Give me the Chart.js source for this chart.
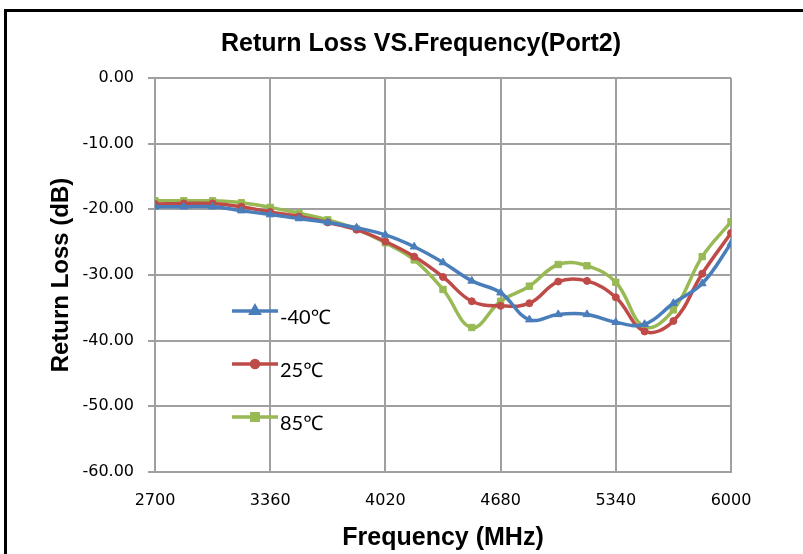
<!DOCTYPE html>
<html>
<head>
<meta charset="utf-8">
<script src="https://cdn.jsdelivr.net/npm/chart.js@4/dist/chart.umd.min.js"></script>
<style>
  body { margin: 0; background: #fff; }
  #wrap { position: relative; width: 803px; height: 554px; overflow: hidden; }
  #frame { position: absolute; left: 4px; top: 9px; width: 900px; height: 700px;
           border-left: 3px solid #000; border-top: 3px solid #000; pointer-events: none; }
</style>
</head>
<body>
<div id="wrap">
  <canvas id="rl" width="803" height="554"></canvas>
  <div id="frame"></div>
</div>
<script>
// frequencies in MHz
const freqs = [2700, 2865, 3030, 3195, 3360, 3525, 3690, 3855, 4020, 4185, 4350,
               4515, 4680, 4845, 5010, 5175, 5340, 5505, 5670, 5835, 6000];

// return loss (dB) per temperature
const rlMinus40 = [-19.6, -19.6, -19.6, -20.2, -20.8, -21.4, -22.0, -22.8, -23.9, -25.7, -28.1,
                   -30.9, -32.7, -36.8, -36.0, -36.0, -37.2, -37.5, -34.3, -31.3, -25.2];
const rl25 = [-19.2, -19.1, -19.1, -19.6, -20.4, -21.1, -22.0, -23.1, -24.9, -27.2, -30.3,
              -34.0, -34.7, -34.3, -31.0, -30.9, -33.4, -38.6, -37.0, -29.8, -23.6];
const rl85 = [-18.7, -18.7, -18.7, -19.0, -19.7, -20.6, -21.6, -23.0, -25.1, -27.7, -32.2,
              -38.0, -34.0, -31.7, -28.4, -28.6, -31.1, -37.9, -35.3, -27.2, -21.9];

const seriesNames = ['-40\u2103', '25\u2103', '85\u2103'];
const seriesColors = ['#4a7ebb', '#be4b48', '#98b954'];
const seriesMarkers = ['triangle', 'circle', 'rect'];

const xTicks = [2700, 3360, 4020, 4680, 5340, 6000];
const chartTitle = 'Return Loss VS.Frequency(Port2)';

const boldFont = '"Liberation Sans", Arial, sans-serif';
const tickFont = '"DejaVu Sans", sans-serif';

const toPoints = vals => vals.map((v, i) => ({ x: freqs[i], y: v }));
const markerSize = m => m == 'circle' ? 3.5 : 4.5;

const datasets = [rlMinus40, rl25, rl85].map((vals, i) => ({
    label: seriesNames[i],
    data: toPoints(vals),
    borderColor: seriesColors[i],
    backgroundColor: seriesColors[i],
    borderWidth: 3.5,
    pointStyle: seriesMarkers[i],
    pointRadius: markerSize(seriesMarkers[i]),
    pointBorderWidth: 1,
    tension: 0.4
}));

// title and legend are drawn by hand (title is centred on the picture, legend sits inside the plot)
const extras = {
    id: 'extras',
    afterDatasetsDraw(chart) {
        const ctx = chart.ctx;
        ctx.save();
        ctx.fillStyle = '#000';
        ctx.font = 'bold 25px ' + boldFont;
        ctx.textAlign = 'center';
        ctx.textBaseline = 'middle';
        ctx.fillText(chartTitle, 421, 44);

        const rows = [311, 364, 417];
        rows.forEach((y, i) => {
            ctx.strokeStyle = seriesColors[i];
            ctx.lineWidth = 3.5;
            ctx.beginPath();
            ctx.moveTo(232, y);
            ctx.lineTo(278, y);
            ctx.stroke();
            ctx.fillStyle = seriesColors[i];
            Chart.helpers.drawPoint(ctx, {
                pointStyle: seriesMarkers[i],
                radius: markerSize(seriesMarkers[i]),
                borderWidth: 1
            }, 255, y);
            ctx.fillStyle = '#000';
            ctx.font = '20px Lato, "Noto Sans", sans-serif';
            ctx.textBaseline = 'middle';
            ctx.textAlign = 'left';
            ctx.fillText(seriesNames[i], 280, y + 7);
        });
        ctx.restore();
    }
};

new Chart('rl', {
    type: 'line',
    data: { datasets: datasets },
    options: {
        responsive: false,
        animation: false,
        devicePixelRatio: 1,
        layout: { padding: { left: 0, right: 72, top: 78, bottom: 0 } },
        plugins: {
            legend: { display: false },
            tooltip: { enabled: false },
            title: { display: false }
        },
        scales: {
            x: {
                type: 'linear',
                min: 2700,
                max: 6000,
                afterBuildTicks: s => { s.ticks = xTicks.map(v => ({ value: v })); },
                afterFit: s => { s.height = 82; },
                grid: { color: '#a0a0a0', lineWidth: 2, drawTicks: false },
                border: { color: '#a0a0a0', width: 2 },
                ticks: {
                    color: '#000',
                    padding: 19,
                    maxRotation: 0,
                    font: { family: tickFont, size: 16 },
                    callback: v => String(v)
                },
                title: {
                    display: true,
                    text: 'Frequency (MHz)',
                    color: '#000',
                    font: { family: boldFont, size: 25, weight: 'bold' },
                    padding: { top: 0, bottom: 1 }
                }
            },
            y: {
                min: -60,
                max: 0,
                afterFit: s => { s.width = 155; },
                grid: { color: '#a0a0a0', lineWidth: 2, tickLength: 7 },
                border: { color: '#a0a0a0', width: 2 },
                ticks: {
                    stepSize: 10,
                    color: '#000',
                    padding: 14,
                    font: { family: tickFont, size: 16 },
                    callback: v => v.toFixed(2)
                },
                title: {
                    display: true,
                    text: 'Return Loss (dB)',
                    color: '#000',
                    font: { family: boldFont, size: 24, weight: 'bold' },
                    padding: { top: 47, bottom: 0 }
                }
            }
        }
    },
    plugins: [extras]
});
</script>
</body>
</html>
